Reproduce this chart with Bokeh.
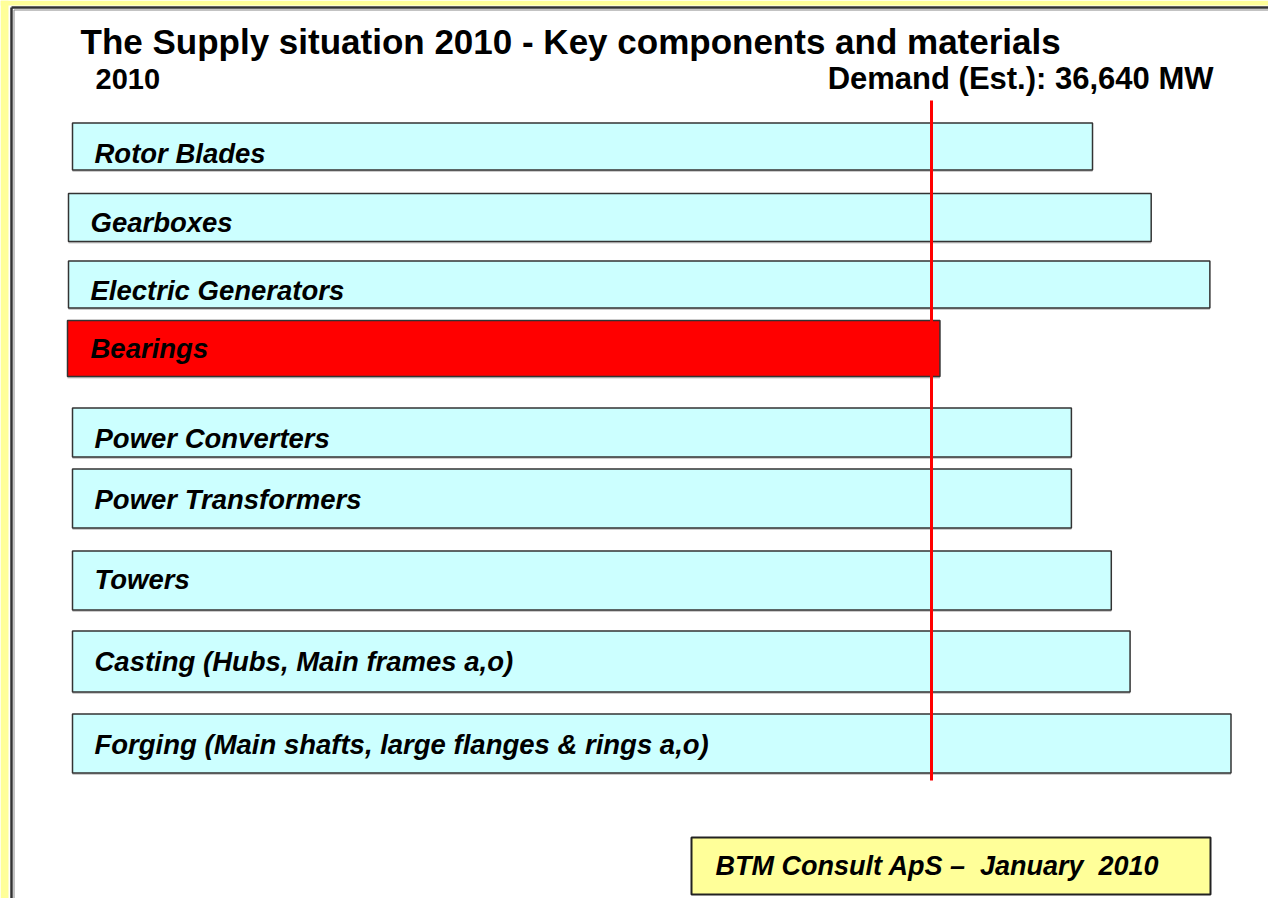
from bokeh.plotting import figure
from bokeh.models import Range1d, ColumnDataSource
from bokeh.core.properties import value
from bokeh.embed import file_html
from bokeh.resources import INLINE

# ---- data ----
components = ["Rotor Blades", "Gearboxes", "Electric Generators", "Bearings",
              "Power Converters", "Power Transformers", "Towers",
              "Casting (Hubs, Main frames a,o)",
              "Forging (Main shafts, large flanges & rings a,o)"]
supply_mw = [43500, 46000, 48500, 37000, 42600, 42600, 44300, 45100, 49400]
demand_mw = 36640
title_text = "The Supply situation 2010 - Key components and materials"
year_text = "2010"
demand_text = "Demand (Est.): 36,640 MW"
source_text = "BTM Consult ApS \u2013\u00a0 January\u00a0 2010"

# ---- layout (screen pixel positions) ----
bar_y = [146, 217, 284, 348, 432, 498, 580, 661, 743]
bar_h = [47, 48, 47, 56, 49, 59, 59, 61, 59]
bar_left_px = [72, 68, 68, 67, 72, 72, 72, 72, 72]
label_y = [153, 222, 290, 348, 438, 499, 579, 661, 744]
label_x = [94, 90, 90, 90, 94, 94, 94, 94, 94]
colors = ["#CCFFFF", "#CCFFFF", "#CCFFFF", "#FF0000", "#CCFFFF",
          "#CCFFFF", "#CCFFFF", "#CCFFFF", "#CCFFFF"]

W, H = 1268, 898
ZERO_PX, DEMAND_PX = 71, 931
mw_per_px = demand_mw / (DEMAND_PX - ZERO_PX)
x0 = (0 - ZERO_PX) * mw_per_px
x1 = (W - ZERO_PX) * mw_per_px
bar_left = [(b - ZERO_PX) * mw_per_px for b in bar_left_px]

p = figure(width=W, height=H, x_range=Range1d(x0, x1), y_range=Range1d(H, 0),
           toolbar_location=None, output_backend="svg", min_border=0,
           min_border_left=0, min_border_right=0, min_border_top=0, min_border_bottom=0)
p.extra_x_ranges = {"px": Range1d(0, W)}
p.axis.visible = False
p.grid.visible = False
p.outline_line_color = None
p.background_fill_color = "white"
p.border_fill_color = "white"

FONT = value("Liberation Sans")

# slide background strips (yellow) and frame
p.quad(left=[0, 0], right=[8, 1268], top=[0, 0], bottom=[898, 5], x_range_name="px",
       fill_color="#FFFF99", line_color=None)
p.segment(x0=[11, 11], y0=[7, 7], x1=[11, 1268], y1=[898, 7],
          x_range_name="px", line_color="#333333", line_width=2.5)
p.segment(x0=[13.5, 13.5], y0=[9.5, 9.5], x1=[13.5, 1268], y1=[898, 9.5],
          x_range_name="px", line_color="#888888", line_width=1)

# titles
p.text(x=[80], y=[41], text=[title_text], x_range_name="px", text_font=FONT,
       text_font_style="bold", text_font_size="35px", text_baseline="middle",
       text_color="black")
p.text(x=[95], y=[78], text=[year_text], x_range_name="px", text_font=FONT,
       text_font_style="bold", text_font_size="29px", text_baseline="middle",
       text_color="black")
p.text(x=[1213], y=[78], text=[demand_text], x_range_name="px", text_font=FONT,
       text_font_style="bold", text_font_size="31px", text_baseline="middle",
       text_align="right", text_color="black")

# bars
src = ColumnDataSource(dict(y=bar_y, h=bar_h, left=bar_left, right=supply_mw,
                            color=colors, shadow_y=[b + 2 for b in bar_y]))
p.hbar(y="shadow_y", height="h", left="left", right="right", source=src,
       fill_color="#999999", line_color=None, fill_alpha=0.5)
p.hbar(y="y", height="h", left="left", right="right", source=src,
       fill_color="color", line_color="#333333", line_width=1.5)

# labels
p.text(x=label_x, y=label_y, text=components, x_range_name="px", text_font=FONT,
       text_font_style="bold italic", text_font_size="27.5px",
       text_baseline="middle", text_color="black")

# demand line
p.segment(x0=[demand_mw], x1=[demand_mw], y0=[100], y1=[780],
          line_color="#FF0000", line_width=3)

# source box
p.quad(left=[691], right=[1210], top=[837], bottom=[894], x_range_name="px",
       fill_color="#FFFF99", line_color="#222222", line_width=2)
p.text(x=[715], y=[865], text=[source_text], x_range_name="px", text_font=FONT,
       text_font_style="bold italic", text_font_size="27px",
       text_baseline="middle", text_color="black")

open("out.html", "w").write(file_html(p, INLINE))
